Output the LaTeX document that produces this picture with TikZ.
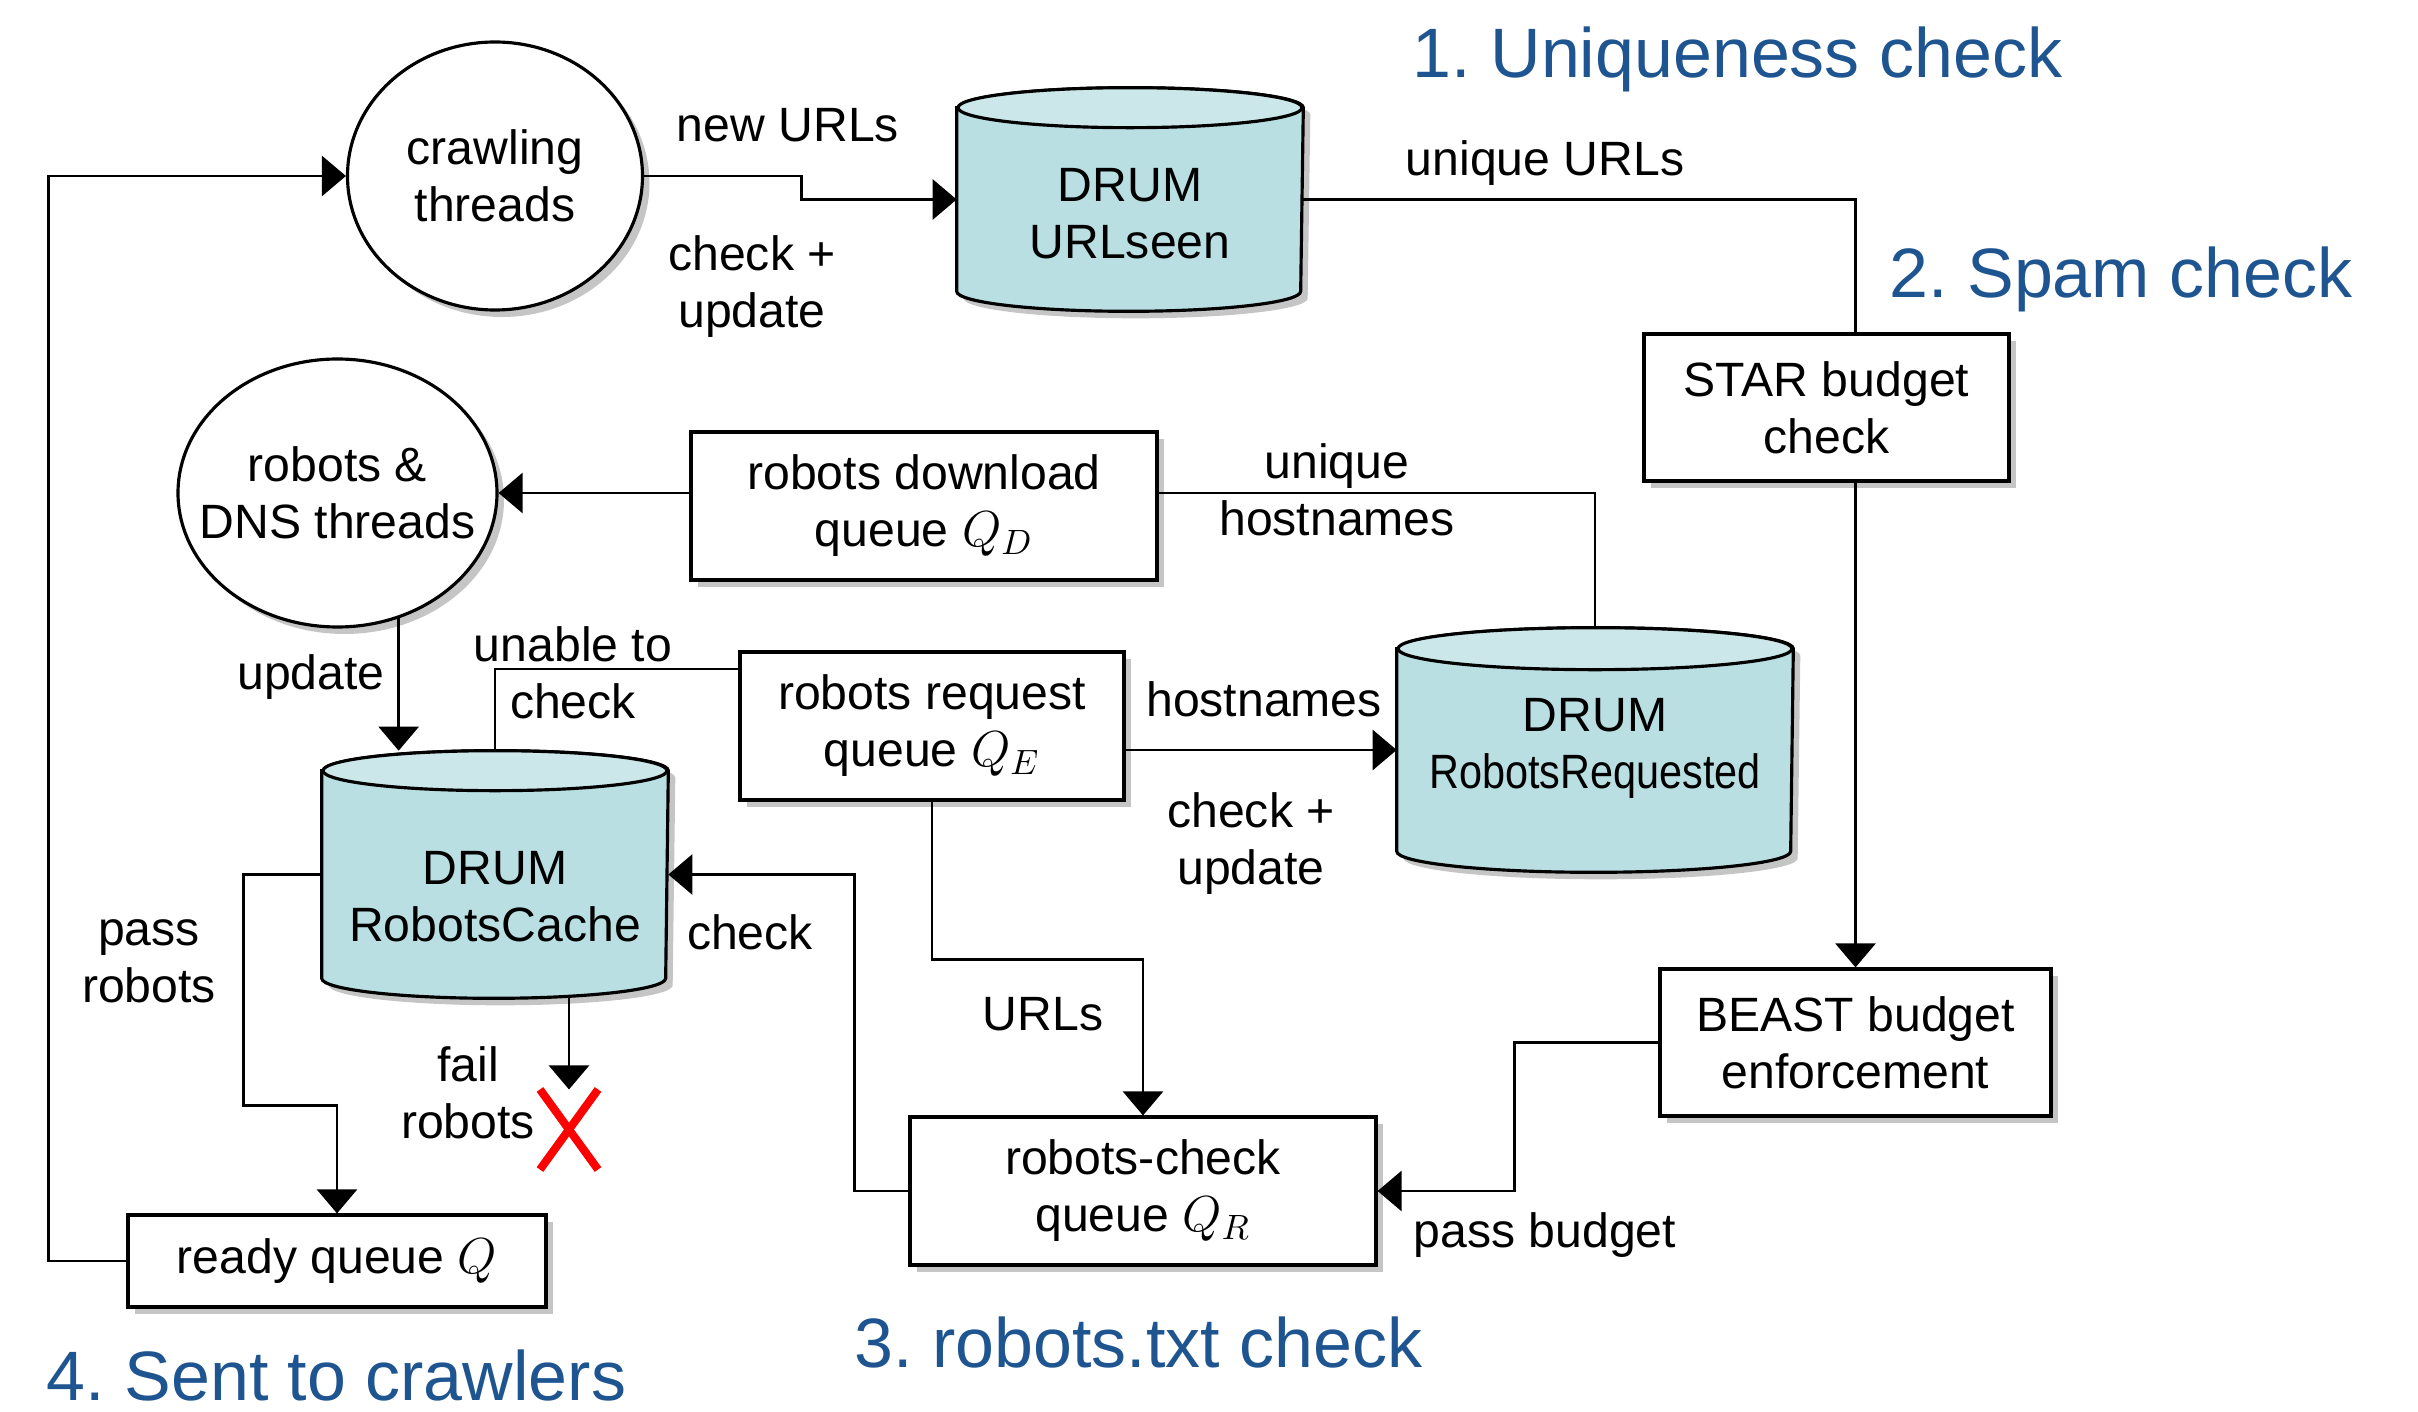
\documentclass[tikz,border=0pt]{standalone}
\usepackage{fontspec}
\setmainfont{Liberation Sans}
\frenchspacing
\usepackage{xcolor}
\usetikzlibrary{
    arrows.meta,
    shapes,
    shadows,
    positioning,
    calc
}
\definecolor{drumbody}{RGB}{185,223,227}
\definecolor{drumtop}{RGB}{203,231,234}
\definecolor{stepblue}{RGB}{30,85,145}
\tikzset{%
    >={Triangle[width=4mm,length=2.4mm]},
    % Specifications for style of nodes:
    plain/.style = {font=\fontsize{13.7}{16.2}\selectfont, align=center, inner sep=0pt},
    dropped/.style = {drop shadow={shadow xshift=0.7mm, shadow yshift=-0.7mm, fill=black!45}},
    base/.style = {
        plain, dropped,
        draw=black, line width=0.9pt, fill=white
    },
    queue/.style = {base, rectangle},
    thread/.style = {base, ellipse, inner xsep=-3mm},
    drum/.style = {plain, rectangle},
    drumtext/.style = {plain, yshift=#1},
    drumside/.style = {dropped, fill=drumbody, draw=black, line width=0.9pt},
    drumcap/.style = {fill=drumtop, draw=black, line width=0.9pt},
    stage/.style = {font=\fontsize{19.9}{24}\selectfont, text=stepblue,
        anchor=base, inner sep=0pt},
    flow/.style = {line width=0.75pt}
}

\begin{document}
\begin{tikzpicture}[flow]
    \useasboundingbox (0,0) rectangle (24.18,-14.12);
    \node[thread, minimum width=2.95cm, minimum height=2.68cm] (C1) at (4.95,-1.76) {crawling\\threads};
    \node[thread, minimum width=3.19cm, minimum height=2.68cm] (C2) at (3.375,-4.93) {robots \&\\DNS threads};
    \node[drum, minimum width=3.44cm, minimum height=2.21cm] (D1) at (11.30,-1.995) {};
    \node[drum, minimum width=3.94cm, minimum height=2.42cm] (D2) at (15.95,-7.50) {};
    \node[drum, minimum width=3.44cm, minimum height=2.45cm] (D3) at (4.95,-8.745) {};
    \foreach \d/\rx/\ry in {D1/1.72/0.2, D2/1.97/0.21, D3/1.72/0.2} {
        \draw[drumside] (\d.north west) ++(0,-\ry) -- ([yshift=\ry cm]\d.south west)
            arc[start angle=180, end angle=360, x radius=\rx, y radius=\ry]
            -- ([yshift=-\ry cm]\d.north east)
            arc[start angle=0, end angle=180, x radius=\rx, y radius=\ry] -- cycle;
        \draw[drumcap] ([yshift=-\ry cm]\d.north) ellipse [x radius=\rx, y radius=\ry];
    }
    \node[drumtext=-1.45mm] (T1) at (D1) {DRUM\\URLseen};
    \node[drumtext=0.2mm] (T2) at (D2) {DRUM\\\scalebox{0.86}[1]{RobotsRequested}};
    \node[drumtext=-2.25mm] (T3) at (D3) {DRUM\\RobotsCache};
    \node[queue, minimum width=3.65cm, minimum height=1.47cm] (Q1) at (18.265,-4.075) {STAR budget\\check};
    \node[queue, minimum width=3.91cm, minimum height=1.47cm] (Q2) at (18.555,-10.425) {BEAST budget\\enforcement};
    \node[queue, minimum width=3.84cm, minimum height=1.48cm] (Q3) at (9.32,-7.26) {robots request\\queue $Q_E$};
    \node[queue, minimum width=4.66cm, minimum height=1.48cm] (Q4) at (11.43,-11.91) {robots-check\\queue $Q_R$};
    \node[queue, minimum width=4.66cm, minimum height=1.48cm] (Q5) at (9.24,-5.06) {robots download\\queue $Q_D$};
    \node[queue, minimum width=4.18cm, minimum height=0.92cm] (Q6) at (3.37,-12.61) {ready queue $Q$};
    \node[draw=red, line width=2.3pt, cross out, minimum width=0.5cm, minimum height=0.72cm, inner sep=0pt] (X1) at (5.69,-11.295) {};

    \draw[->] (C1.east) -- ++(1.575,0) |- (D1.west);
    \draw (D1.east) -| (Q2.north |- Q1.north);
    \draw[->] (Q2.north |- Q1.south) -- (Q2.north);
    \draw[->] (Q2.west) -- ++(-1.44,0) |- (Q4.east);
    \draw[->] (Q3.south) -- ++(0,-1.58) -| (Q4.north);
    \draw[->] (Q3.east |- D2.west) -- (D2.west);
    \draw (D2.north) |- (Q5.east |- C2.east);
    \draw[->] (Q5.west |- C2.east) -- (C2.east);
    \draw[->] (C2.-64) -- (C2.-64 |- D3.north);
    \draw ([yshift=5.7mm]Q3.west) -| (D3.north);
    \draw[->] (Q4.west) -- ++(-0.54,0) |- (D3.east);
    \draw[->] (D3.west) -| ++(-0.78,-2.31) -| (Q6.north);
    \draw[->] (D3.south -| X1.north) -- (X1.north);
    \draw[->] (Q6.west) -- ++(-0.78,0) |- (C1.west);

    \node[plain] (L1) at (7.88,-1.25) {new URLs};
    \node[plain] (L2) at (7.52,-2.87) {check +\\update};
    \node[plain] (L3) at (15.45,-1.63) {unique URLs};
    \node[plain] (L4) at (13.37,-4.90) {unique\\hostnames};
    \node[plain] (L5) at (12.64,-6.99) {hostnames};
    \node[plain] (L6) at (12.51,-8.44) {check +\\update};
    \node[plain] (L7) at (5.73,-6.73) {unable to\\check};
    \node[plain] (L8) at (3.11,-6.77) {update};
    \node[plain] (L9) at (7.50,-9.32) {check};
    \node[plain] (L10) at (10.43,-10.14) {URLs};
    \node[plain] (L11) at (15.45,-12.35) {pass budget};
    \node[plain] (L12) at (1.49,-9.61) {pass\\robots};
    \node[plain] (L13) at (4.68,-10.93) {fail\\robots};

    \node[stage] (S1) at (17.375,-0.78) {1. Uniqueness check};
    \node[stage] (S2) at (21.21,-2.98) {2. Spam check};
    \node[stage] (S3) at (11.385,-13.67) {3. robots.txt check};
    \node[stage] (S4) at (3.365,-14.00) {4. Sent to crawlers};
\end{tikzpicture}
\end{document}
